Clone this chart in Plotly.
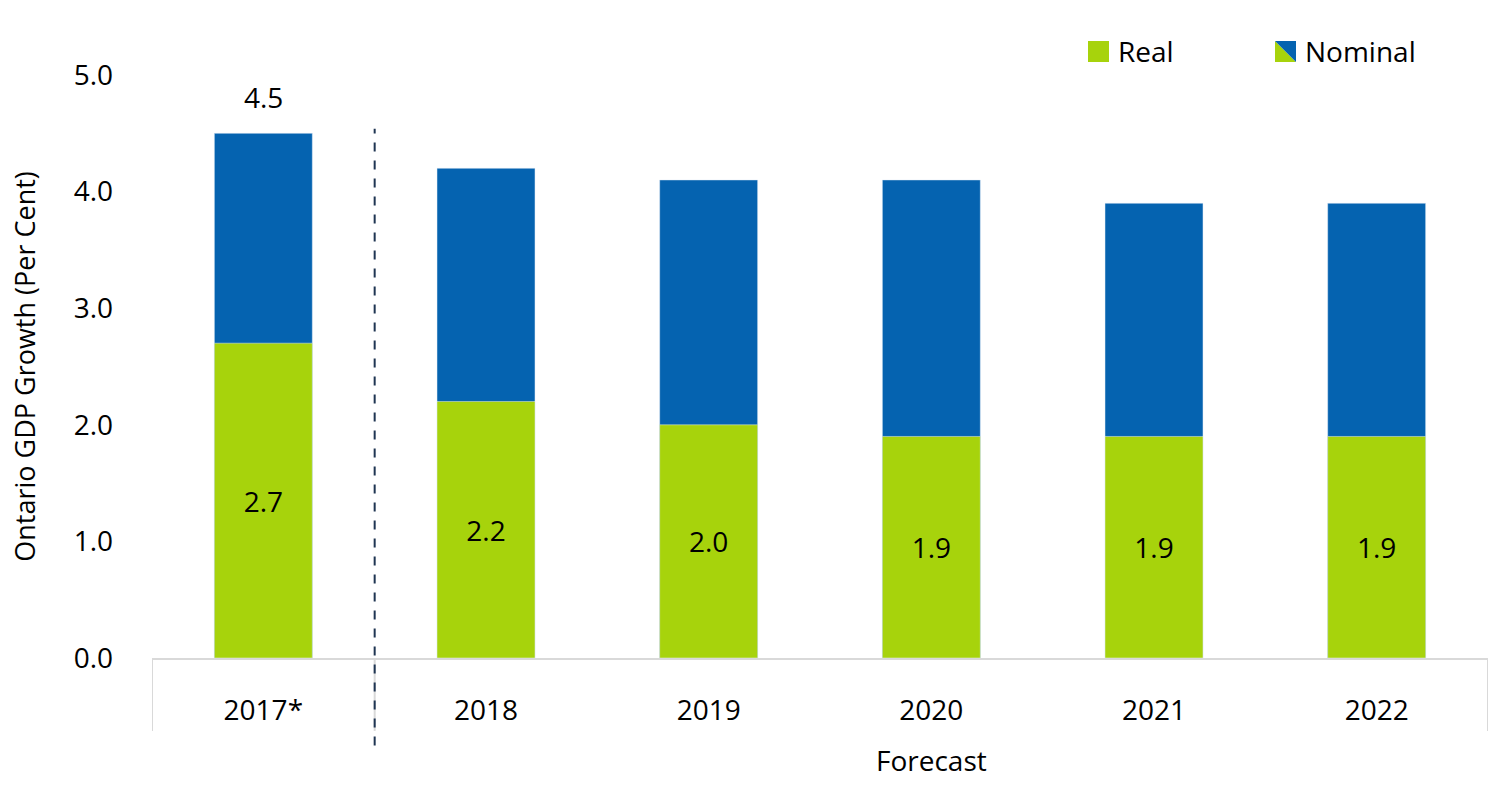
import plotly.graph_objects as go

# Ontario GDP growth, per cent
years = ['2017*', '2018', '2019', '2020', '2021', '2022']
nominal = [4.5, 4.2, 4.1, 4.1, 3.9, 3.9]
real = [2.7, 2.2, 2.0, 1.9, 1.9, 1.9]

GREEN = '#a7d30c'
BLUE = '#0563b0'
FONT = 'Open Sans'
FS = 28

fig = go.Figure()
fig.add_trace(go.Bar(x=years, y=nominal, name='Nominal', marker_color=BLUE,
                     width=0.44, showlegend=False, hoverinfo='y'))
fig.add_trace(go.Bar(x=years, y=real, name='Real', marker_color=GREEN,
                     width=0.44, showlegend=False,
                     text=[f'{v:.1f}' for v in real],
                     textposition='inside', insidetextanchor='middle',
                     textangle=0,
                     textfont=dict(size=FS, color='black', family=FONT)))

# nominal labels above bars
for yr, v in zip(years, nominal):
    fig.add_annotation(x=yr, y=v, text=f'{v:.1f}', showarrow=False,
                       yanchor='bottom', yshift=15,
                       font=dict(size=FS, color='black', family=FONT))

# forecast divider and category boundary lines
fig.add_shape(type='line', xref='x', yref='paper', x0=0.5, x1=0.5,
              y0=-0.15, y1=0.908,
              line=dict(color='#1f3552', width=2, dash='dash'))
for xb in [-0.5, 0.5, 5.5]:
    fig.add_shape(type='line', xref='x', yref='paper', x0=xb, x1=xb,
                  y0=0, y1=-0.125, layer='below',
                  line=dict(color='#d9d9d9', width=2))

fig.add_annotation(x=3, y=-0.175, xref='x', yref='paper', text='Forecast',
                   showarrow=False, yanchor='middle',
                   font=dict(size=FS, color='black', family=FONT))

# custom legend
fig.add_shape(type='rect', xref='paper', yref='paper',
              x0=(1088 - 152) / 1336, x1=(1109 - 152) / 1336,
              y0=(658 - 62) / 583, y1=(658 - 41) / 583,
              fillcolor=GREEN, line_width=0)
fig.add_annotation(xref='paper', yref='paper', x=(1116 - 152) / 1336,
                   y=(658 - 51) / 583, text='Real', showarrow=False,
                   xanchor='left', yanchor='middle',
                   font=dict(size=FS, color='black', family=FONT))
nx0, nx1 = (1275 - 152) / 1336, (1296 - 152) / 1336
ny0, ny1 = (658 - 62) / 583, (658 - 41) / 583
fig.add_shape(type='path', xref='paper', yref='paper',
              path=f'M {nx0} {ny0} L {nx0} {ny1} L {nx1} {ny0} Z',
              fillcolor=GREEN, line_width=0)
fig.add_shape(type='path', xref='paper', yref='paper',
              path=f'M {nx0} {ny1} L {nx1} {ny1} L {nx1} {ny0} Z',
              fillcolor=BLUE, line_width=0)
fig.add_annotation(xref='paper', yref='paper', x=(1303 - 152) / 1336,
                   y=(658 - 51) / 583, text='Nominal', showarrow=False,
                   xanchor='left', yanchor='middle',
                   font=dict(size=FS, color='black', family=FONT))

fig.update_layout(
    barmode='overlay',
    width=1500, height=786,
    margin=dict(l=152, r=12, t=75, b=128),
    plot_bgcolor='white', paper_bgcolor='white',
    font=dict(family=FONT, size=FS, color='black'),
)
fig.update_xaxes(showline=True, linecolor='#d9d9d9', linewidth=2,
                 ticks='', ticklabelstandoff=26, showgrid=False,
                 range=[-0.5, 5.5], fixedrange=True)
fig.update_yaxes(range=[0, 5], dtick=1, tickformat='.1f', showgrid=False,
                 zeroline=False, showline=False, ticks='',
                 ticklabelstandoff=38,
                 title=dict(text='Ontario GDP Growth (Per Cent)', standoff=30,
                            font=dict(size=27)))

fig.write_html('out.html', config={'displayModeBar': False},
               post_script="document.body.style.margin='0';")
